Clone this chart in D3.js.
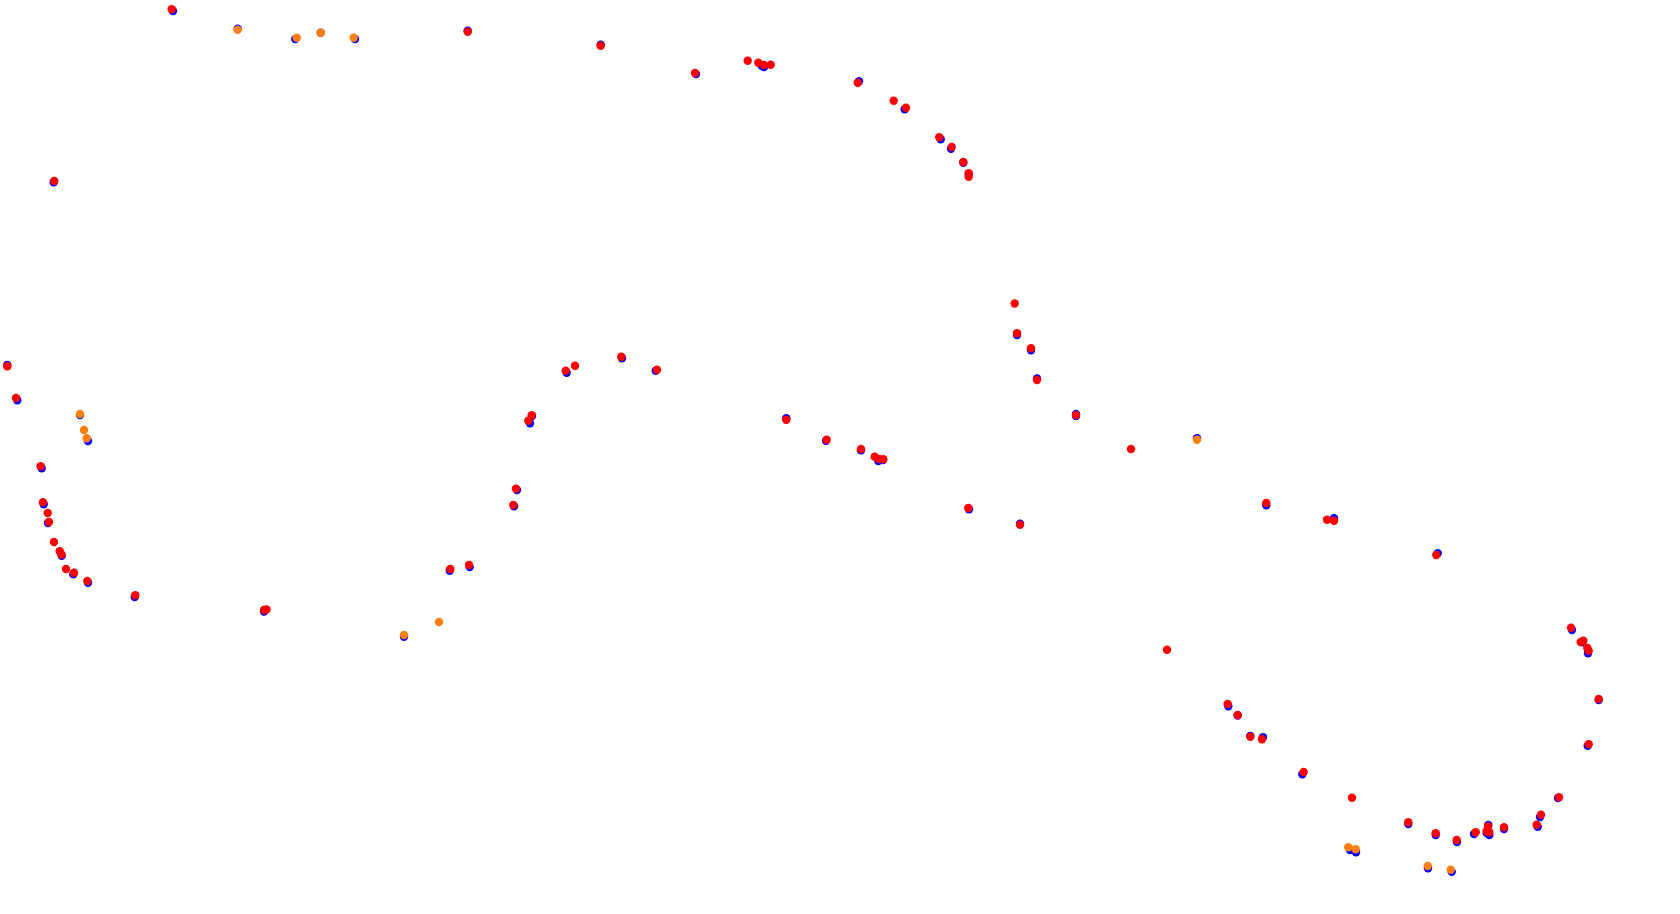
<!DOCTYPE html>
<html>
<head>
<meta charset="utf-8">
<script src="https://cdn.jsdelivr.net/npm/d3@7"></script>
<style>
  html, body { margin: 0; padding: 0; background: #ffffff; overflow: hidden; }
  svg { display: block; }
</style>
</head>
<body>
<script>
// Series: blue (base layer)
const blueX = [173,237.7,295.3,320.7,355,53.7,467.7,600.7,761.7,764,696,859,904.7,940.7,951,963.3,968.7,
  7.3,17.3,80,88,41.7,43.7,48,61.7,73.3,88,134.7,264,404,
  566.7,622,655.7,530,532,786.3,826,517,514,449.7,469.7,
  1017,1031,1037,1076,1076,1197,861,878.3,883,969,1020,
  1266.3,1334,1437.7,1228.3,1237.7,1250.3,1263,
  1572,1582.7,1588,1598.7,1587.7,1558,1540,1537.7,1504,1488.3,1486.7,1489.3,1474,1457,1435.7,1408.3,1302.3,
  1350,1356,1428,1451.7];
const blueY = [11,28.7,39,32.7,39,182.3,30.7,44.7,65.7,67,74,81.3,109.3,139.3,148.7,162.7,174,
  365,400.3,415,441,468.3,504.3,523,555.7,574.3,582.7,597,611.5,636.7,
  372.7,358.3,370.7,423.3,416,418.3,440.7,490,506.3,570.7,567,
  335,350.3,378.5,414,416,438.3,450.3,461,460,509.3,523.7,
  505.3,518.3,553.3,706.3,715.5,736,737.3,
  630,642.3,653.3,700,745.7,798,817,826.7,829,825,833,835,834,842,835,824,774.3,
  850,852.3,868.3,871.7];

// Series: orange
const orangeX = [237.7,296.7,320.7,353.7,80,84,86.7,404,439,1197,1348.3,1355.7,1427.7,1450.7];
const orangeY = [29.7,37.7,32.7,37.7,414,430,438.3,635,622,439.7,847.3,849.3,866,869.7];

// Series: red (top layer)
const redX = [171.7,54.3,467.7,600.7,747.7,758.3,764,770.7,695,857.7,893.7,906,939.3,951.7,963.3,968.7,968.7,1014.7,
  7.3,16,40.7,43,47.7,49,54,59.7,61.5,66,74,87.3,135.3,264,266.5,
  565.7,575,621.3,657,531.7,528.3,786.3,826.7,516,513.3,450.3,469,
  1017,1031,1037,1076,1131,861,874.7,879,883.3,968.3,1020,
  1266.3,1327,1334,1436.3,1167,1227.7,1237.7,1250.3,1262,
  1571,1580.7,1583.3,1587.3,1588.7,1598.7,1588.7,1559,1541,1536.7,1504,1488,1489.3,1486.7,1475.7,1456.7,1435.7,1408.3,1352,1303.7];
const redY = [9.3,181,31.7,45.7,60.7,62.7,65,64.7,73,82.7,100.7,107.7,137.3,147,162,173.3,176.7,303.5,
  366.3,398,466.3,502.3,513,522,542,551.3,554.5,569,572.7,581,595.3,610,609.5,
  370.7,365.7,356.7,369.7,415.3,420.7,419.7,439.7,488.7,505,569,565,
  333.3,348.3,380,415,449,449,456.7,459,459.3,508,524.7,
  503,519.7,520.7,555,649.7,704,715,736.7,739.3,
  627.7,642,640.7,648,650.7,699,744.3,797.3,814.7,824.7,827.3,826.5,832.3,831.3,832.3,840,833.3,822.3,797.7,772];

const W = 1680, H = 914;
const x = d3.scaleLinear().domain([0, 1680]).range([0, W]);
const y = d3.scaleLinear().domain([0, 914]).range([0, H]);

const svg = d3.select("body").append("svg").attr("width", W).attr("height", H);

function layer(xs, ys, color) {
  const pts = xs.map((v, i) => ({ x: v, y: ys[i] }));
  svg.append("g").selectAll("circle").data(pts).join("circle")
    .attr("cx", d => x(d.x))
    .attr("cy", d => y(d.y))
    .attr("r", 4.2)
    .attr("fill", color);
}
layer(blueX, blueY, "#0000ff");
layer(orangeX, orangeY, "#ff7f0e");
layer(redX, redY, "#ff0000");
</script>
</body>
</html>
